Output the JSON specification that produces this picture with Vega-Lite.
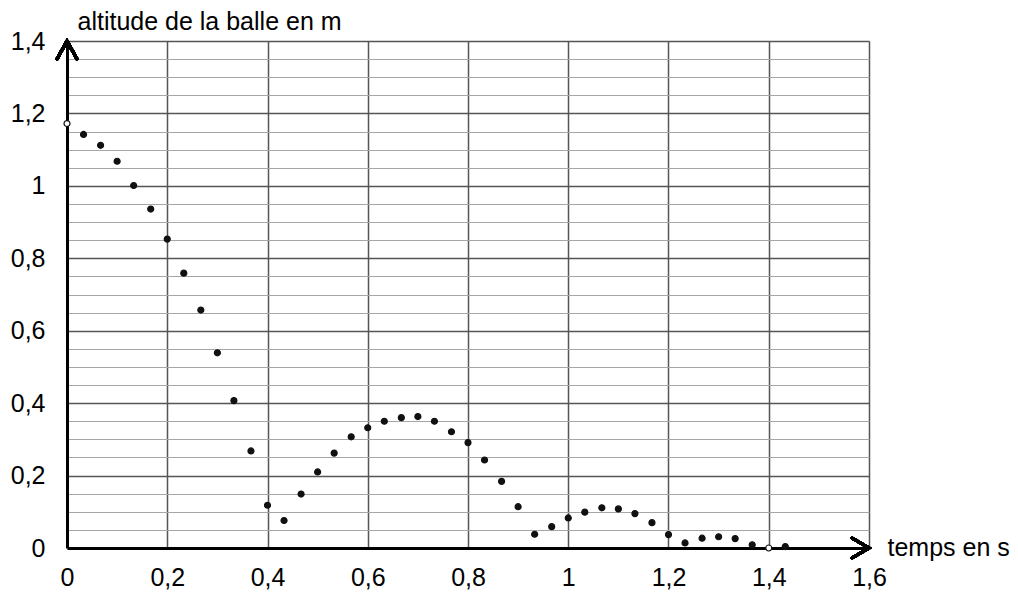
{
  "$schema": "https://vega.github.io/schema/vega-lite/v6.json",
  "width": 802,
  "height": 507,
  "autosize": "none",
  "padding": {"left": 67, "top": 41, "right": 149, "bottom": 45},
  "background": "white",
  "config": {"font": "Liberation Sans", "view": {"stroke": null}},
  "data": {"values": [
    {"t": 0, "h": 1.172}, {"t": 0.033, "h": 1.142}, {"t": 0.067, "h": 1.112}, {"t": 0.1, "h": 1.068},
    {"t": 0.133, "h": 1.001}, {"t": 0.167, "h": 0.936}, {"t": 0.2, "h": 0.853}, {"t": 0.233, "h": 0.759},
    {"t": 0.267, "h": 0.657}, {"t": 0.3, "h": 0.539}, {"t": 0.333, "h": 0.407}, {"t": 0.367, "h": 0.268},
    {"t": 0.4, "h": 0.118}, {"t": 0.433, "h": 0.076}, {"t": 0.467, "h": 0.149}, {"t": 0.5, "h": 0.21},
    {"t": 0.533, "h": 0.262}, {"t": 0.567, "h": 0.307}, {"t": 0.6, "h": 0.332}, {"t": 0.633, "h": 0.35},
    {"t": 0.667, "h": 0.36}, {"t": 0.7, "h": 0.363}, {"t": 0.733, "h": 0.35}, {"t": 0.767, "h": 0.321},
    {"t": 0.8, "h": 0.291}, {"t": 0.833, "h": 0.243}, {"t": 0.867, "h": 0.184}, {"t": 0.9, "h": 0.114},
    {"t": 0.933, "h": 0.038}, {"t": 0.967, "h": 0.059}, {"t": 1.0, "h": 0.083}, {"t": 1.033, "h": 0.099},
    {"t": 1.067, "h": 0.111}, {"t": 1.1, "h": 0.108}, {"t": 1.133, "h": 0.095}, {"t": 1.167, "h": 0.07},
    {"t": 1.2, "h": 0.037}, {"t": 1.233, "h": 0.014}, {"t": 1.267, "h": 0.027}, {"t": 1.3, "h": 0.031},
    {"t": 1.333, "h": 0.026}, {"t": 1.367, "h": 0.009}, {"t": 1.4, "h": 0.0}, {"t": 1.433, "h": 0.004}
  ]},
  "resolve": {"axis": {"y": "independent"}},
  "layer": [
    {
      "mark": {"type": "point", "opacity": 0},
      "encoding": {
        "x": {"field": "t", "type": "quantitative", "scale": {"domain": [0, 1.6], "nice": false, "zero": false}},
        "y": {
          "field": "h", "type": "quantitative",
          "scale": {"domain": [0, 1.4], "nice": false, "zero": false},
          "axis": {
            "orient": "right",
            "values": [0.05, 0.1, 0.15, 0.25, 0.3, 0.35, 0.45, 0.5, 0.55, 0.65, 0.7, 0.75, 0.85, 0.9, 0.95, 1.05, 1.1, 1.15, 1.25, 1.3, 1.35],
            "labels": false, "ticks": false, "domain": false, "title": null,
            "grid": true, "gridColor": "#a6a6a6", "gridWidth": 1
          }
        }
      }
    },
    {
      "mark": {"type": "point", "shape": "circle", "filled": true, "size": 36, "opacity": 1, "strokeWidth": 1.2},
      "encoding": {
        "x": {
          "field": "t", "type": "quantitative",
          "scale": {"domain": [0, 1.6], "nice": false, "zero": false},
          "axis": {
            "values": [0, 0.2, 0.4, 0.6, 0.8, 1, 1.2, 1.4, 1.6],
            "labelExpr": "replace(format(datum.value, '.1~f'), '.', ',')",
            "labelFontSize": 25, "labelColor": "black", "labelPadding": 17,
            "labelOverlap": false, "labelBound": false, "labelFlush": false,
            "ticks": false,
            "domainColor": "black", "domainWidth": 3,
            "grid": true, "gridColor": "#555555", "gridWidth": 1.5,
            "gridOpacity": {"condition": {"test": "datum.value == 0", "value": 0}, "value": 1},
            "title": "temps en s", "titleFontSize": 25, "titleFontWeight": "normal", "titleColor": "black",
            "titleAngle": 0, "titleAlign": "left", "titleBaseline": "alphabetic",
            "titleX": 820, "titleY": 7
          }
        },
        "y": {
          "field": "h", "type": "quantitative",
          "scale": {"domain": [0, 1.4], "nice": false, "zero": false},
          "axis": {
            "orient": "left",
            "values": [0, 0.2, 0.4, 0.6, 0.8, 1, 1.2, 1.4],
            "labelExpr": "replace(format(datum.value, '.1~f'), '.', ',')",
            "labelFontSize": 25, "labelColor": "black", "labelPadding": 22,
            "labelOverlap": false, "labelBound": false, "labelFlush": false,
            "ticks": false,
            "domainColor": "black", "domainWidth": 3,
            "grid": true, "gridColor": "#555555", "gridWidth": 1.5,
            "gridOpacity": {"condition": {"test": "datum.value == 0", "value": 0}, "value": 1},
            "title": "altitude de la balle en m", "titleFontSize": 25, "titleFontWeight": "normal", "titleColor": "black",
            "titleAngle": 0, "titleAlign": "left", "titleBaseline": "alphabetic",
            "titleX": 10, "titleY": -12
          }
        },
        "stroke": {"value": "#111111"},
        "fill": {"condition": {"test": "datum.t == 0 || datum.h == 0", "value": "white"}, "value": "#111111"}
      }
    },
    {
      "mark": {"type": "point", "shape": "M -1 1.8 L 0 0 L 1 1.8", "filled": false, "size": 400, "strokeWidth": 3, "color": "black", "opacity": 1, "strokeCap": "round", "strokeJoin": "miter"},
      "encoding": {"x": {"datum": 0}, "y": {"datum": 1.4, "axis": null}}
    },
    {
      "mark": {"type": "point", "shape": "M -1.7 -1 L 0 0 L -1.7 1", "filled": false, "size": 400, "strokeWidth": 3, "color": "black", "opacity": 1, "strokeCap": "round", "strokeJoin": "miter"},
      "encoding": {"x": {"datum": 1.6}, "y": {"datum": 0, "axis": null}}
    }
  ]
}
